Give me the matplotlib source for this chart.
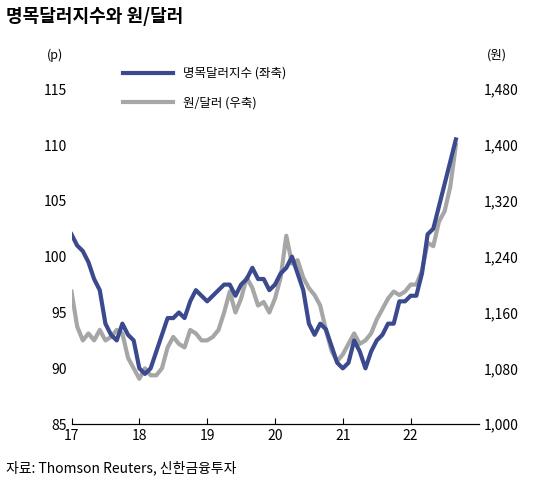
import matplotlib
matplotlib.use("Agg")
import matplotlib.pyplot as plt
import numpy as np

plt.rcParams['font.family'] = ['Noto Sans CJK KR', 'DejaVu Sans']

dxy = [102, 101, 100.5, 99.5, 98, 97, 94, 93, 92.5, 94, 93, 92.5,
       90, 89.5, 90, 91.5, 93, 94.5, 94.5, 95, 94.5, 96, 97, 96.5,
       96, 96.5, 97, 97.5, 97.5, 96.5, 97.5, 98, 99, 98, 98, 97,
       97.5, 98.5, 99, 100, 98.5, 97, 94, 93, 94, 93.5, 92, 90.5,
       90, 90.5, 92.5, 91.5, 90, 91.5, 92.5, 93, 94, 94, 96, 96,
       96.5, 96.5, 98.5, 102, 102.5, 104.5, 106.5, 108.5, 110.5]
krw = [1190, 1140, 1120, 1130, 1120, 1135, 1120, 1125, 1135, 1130, 1095, 1080,
       1065, 1080, 1070, 1070, 1080, 1110, 1125, 1115, 1110, 1135, 1130, 1120,
       1120, 1125, 1135, 1160, 1190, 1160, 1180, 1210, 1195, 1170, 1175, 1160,
       1180, 1210, 1270, 1230, 1235, 1210, 1195, 1185, 1170, 1135, 1105, 1090,
       1100, 1115, 1130, 1115, 1120, 1130, 1150, 1165, 1180, 1190, 1185, 1190,
       1200, 1200, 1220, 1260, 1255, 1290, 1305, 1340, 1400]
months = np.arange(len(dxy)) / 12.0 + 17

fig = plt.figure(figsize=(5.5, 4.82), dpi=100)
ax = fig.add_axes([0.13, 0.12, 0.74, 0.695])
ax2 = ax.twinx()
ax.set_zorder(2)
ax.patch.set_visible(False)

ln2, = ax2.plot(months, krw, color='#a6a6a6', lw=3, label='원/달러 (우축)')
ln1, = ax.plot(months, dxy, color='#3b4a8e', lw=3, label='명목달러지수 (좌축)')

ax.set_ylim(85, 115)
ax.set_yticks(range(85, 116, 5))
ax2.set_ylim(1000, 1480)
ax2.set_yticks(range(1000, 1481, 80))
ax2.set_yticklabels([f'{v:,}' for v in range(1000, 1481, 80)])
ax.set_xlim(17, 23)
ax.set_xticks(range(17, 23))
for a in (ax, ax2):
    for s in ['top', 'left', 'right']:
        a.spines[s].set_visible(False)
    a.tick_params(length=0, labelsize=10)
ax.spines['bottom'].set_color('black')
ax.tick_params(axis='x', direction='in', length=4)

ax.text(-0.02, 1.09, '(p)', transform=ax.transAxes, ha='right', fontsize=9)
ax.text(1.02, 1.09, '(원)', transform=ax.transAxes, ha='left', fontsize=9)
ax.legend(handles=[ln1, ln2], loc='upper left', bbox_to_anchor=(0.1, 1.1),
          frameon=False, fontsize=9, handlelength=4, labelspacing=1.3)

fig.text(0.01, 0.955, '명목달러지수와 원/달러', fontsize=13, fontweight='bold')
fig.text(0.01, 0.02, '자료: Thomson Reuters, 신한금융투자', fontsize=10)
fig.savefig('out.png')
